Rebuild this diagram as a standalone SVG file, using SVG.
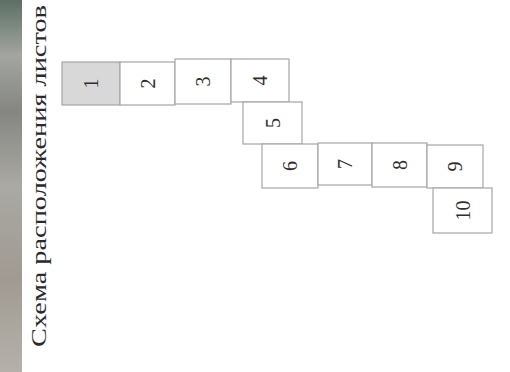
<svg xmlns="http://www.w3.org/2000/svg" width="510" height="372" viewBox="0 0 510 372">
<defs>
<linearGradient id="strip" x1="0" y1="0" x2="0" y2="1">
<stop offset="0" stop-color="#5d6f66"/>
<stop offset="0.15" stop-color="#a3a5a1"/>
<stop offset="0.3" stop-color="#858682"/>
<stop offset="0.5" stop-color="#aaa9a4"/>
<stop offset="0.75" stop-color="#a09a92"/>
<stop offset="1" stop-color="#b5b1aa"/>
</linearGradient>
<style>
.box{fill:#ffffff;stroke:#a6a6a6;stroke-width:1.2}
.grey{fill:#d8d8d8}
.num{font-family:"Liberation Serif","Times New Roman",serif;font-size:20px;fill:#2e2e2e;text-anchor:middle;dominant-baseline:central}
.title{font-family:"Liberation Serif","Times New Roman",serif;font-size:21px;fill:#2a2a2a}
</style>
</defs>
<rect width="510" height="372" fill="#ffffff"/>
<rect x="0" y="0" width="22" height="372" fill="url(#strip)"/>
<text class="title" transform="translate(46,347) rotate(-90)" textLength="342" lengthAdjust="spacingAndGlyphs">Схема расположения листов</text>
<g id="connectors"/>
<g id="n1"><rect class="box grey" x="62" y="62" width="58" height="43"/><text class="num" transform="translate(91,83.5) rotate(-90)">1</text></g>
<g id="n2"><rect class="box" x="120" y="62" width="55" height="43"/><text class="num" transform="translate(147.5,83.5) rotate(-90)">2</text></g>
<g id="n3"><rect class="box" x="175" y="59" width="56" height="45"/><text class="num" transform="translate(203,81.5) rotate(-90)">3</text></g>
<g id="n4"><rect class="box" x="231" y="59" width="58" height="43"/><text class="num" transform="translate(260,80.5) rotate(-90)">4</text></g>
<g id="n5"><rect class="box" x="243" y="102" width="59" height="42"/><text class="num" transform="translate(272.5,123) rotate(-90)">5</text></g>
<g id="n6"><rect class="box" x="262" y="144" width="56" height="44"/><text class="num" transform="translate(290,166) rotate(-90)">6</text></g>
<g id="n7"><rect class="box" x="318" y="143" width="54" height="42"/><text class="num" transform="translate(345,164) rotate(-90)">7</text></g>
<g id="n8"><rect class="box" x="372" y="143" width="55" height="44"/><text class="num" transform="translate(399.5,165) rotate(-90)">8</text></g>
<g id="n9"><rect class="box" x="427" y="145" width="56" height="43"/><text class="num" transform="translate(455,166.5) rotate(-90)">9</text></g>
<g id="n10"><rect class="box" x="433" y="188" width="59" height="45"/><text class="num" transform="translate(462.5,210.5) rotate(-90)">10</text></g>
</svg>
